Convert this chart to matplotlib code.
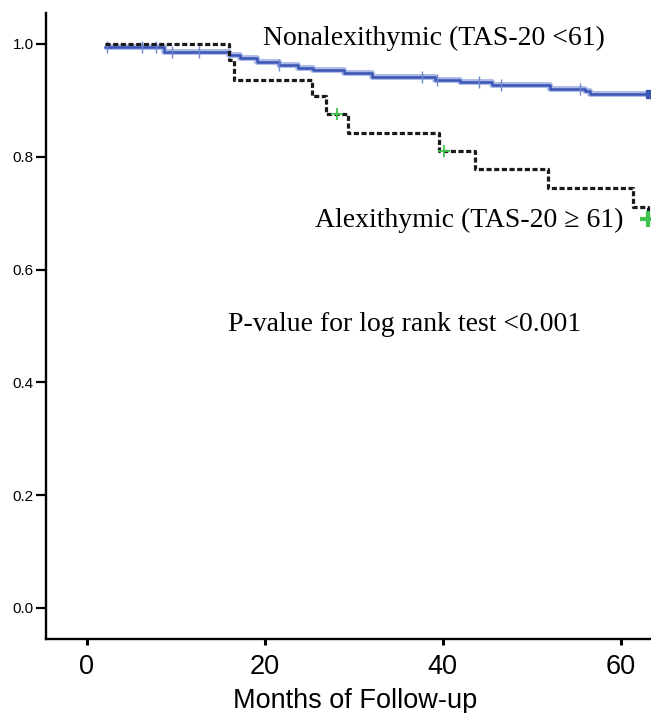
import numpy as np
import matplotlib
matplotlib.use("Agg")
import matplotlib.pyplot as plt

# Kaplan-Meier step data
nonalex_t = [2.1, 8.7, 16.0, 17.3, 19.2, 21.6, 23.8, 25.5, 28.9, 32.1, 39.2, 42.0, 45.6, 52.1, 56.0, 56.6, 63.3]
nonalex_s = [0.995, 0.985, 0.980, 0.975, 0.968, 0.963, 0.958, 0.954, 0.948, 0.942, 0.936, 0.932, 0.927, 0.921, 0.917, 0.912, 0.912]
nonalex_cens = [2.3, 6.2, 7.8, 9.6, 12.6, 21.6, 37.7, 39.4, 44.1, 46.6, 55.5]

alex_t = [2.1, 16.0, 16.6, 25.3, 26.9, 29.4, 39.6, 43.6, 51.8, 61.4, 63.1, 63.4]
alex_s = [1.0, 0.972, 0.937, 0.907, 0.875, 0.843, 0.810, 0.778, 0.744, 0.711, 0.690, 0.690]
alex_cens = [28.1, 40.2]

x_ticks = [0, 20, 40, 60]
y_ticks = [0.0, 0.2, 0.4, 0.6, 0.8, 1.0]

label_nonalex = "Nonalexithymic (TAS-20 <61)"
label_alex = "Alexithymic (TAS-20 \u2265 61)"
label_p = "P-value for log rank test <0.001"


def surv_at(ts, ss, t):
    i = np.searchsorted(ts, t, side="right") - 1
    return np.asarray(ss)[np.clip(i, 0, len(ss) - 1)]


fig = plt.figure(figsize=(6.51, 7.13), dpi=100)
ax = fig.add_axes([0.070, 0.1038, 0.931, 0.878])

blue = "#3a55b4"
halo = "#a9b8e6"
ax.step(nonalex_t, nonalex_s, where="post", color=halo, lw=4.2, solid_capstyle="butt", zorder=2)
ax.step(nonalex_t, nonalex_s, where="post", color=blue, lw=1.8, zorder=3)
ct = np.array(nonalex_cens)
ax.plot(ct, surv_at(nonalex_t, nonalex_s, ct), linestyle="none", marker="|", ms=9,
        mew=1.0, color="#6f86d0", zorder=3)
ax.plot([nonalex_t[-1]], [nonalex_s[-1]], marker="s", ms=6, color=blue, zorder=4, clip_on=False)

ax.step(alex_t, alex_s, where="post", color="#1a1a1a", lw=2.3,
        linestyle=(0, (1.6, 0.8)), zorder=4)
at = np.array(alex_cens)
ax.plot(at, surv_at(alex_t, alex_s, at), linestyle="none", marker="+", ms=8,
        mew=1.3, color="#3fc24f", zorder=5)
ax.plot([alex_t[-2]], [alex_s[-2]], linestyle="none", marker="+", ms=11, mew=3,
        color="#3fc24f", zorder=5, clip_on=False)

ax.set_xlim(-4.6, 63.5)
ax.set_ylim(-0.055, 1.055)
ax.set_xticks(x_ticks)
ax.set_yticks(y_ticks)
ax.set_yticklabels([f"{v:.1f}" for v in y_ticks], fontsize=11, family="Liberation Sans")
ax.set_xticklabels([str(v) for v in x_ticks], fontsize=19.5, family="Liberation Sans")
ax.tick_params(axis="y", length=7, width=1.6, pad=1.5)
ax.tick_params(axis="x", length=4, width=2.2, pad=6.5)
for s in ["top", "right"]:
    ax.spines[s].set_visible(False)
for s in ["left", "bottom"]:
    ax.spines[s].set_linewidth(1.7)
ax.set_xlabel("Months of Follow-up", fontsize=19.5, family="Liberation Sans")
ax.xaxis.set_label_coords(0.5106, -0.079)

serif = ["Liberation Serif", "DejaVu Serif"]
ax.text(39.0, 1.0106, label_nonalex, fontsize=20, family=serif, ha="center", va="center")
ax.text(43.0, 0.688, label_alex, fontsize=20, family=serif, ha="center", va="center")
ax.text(35.7, 0.502, label_p, fontsize=20, family=serif, ha="center", va="center")

fig.savefig("out.png", dpi=100)
